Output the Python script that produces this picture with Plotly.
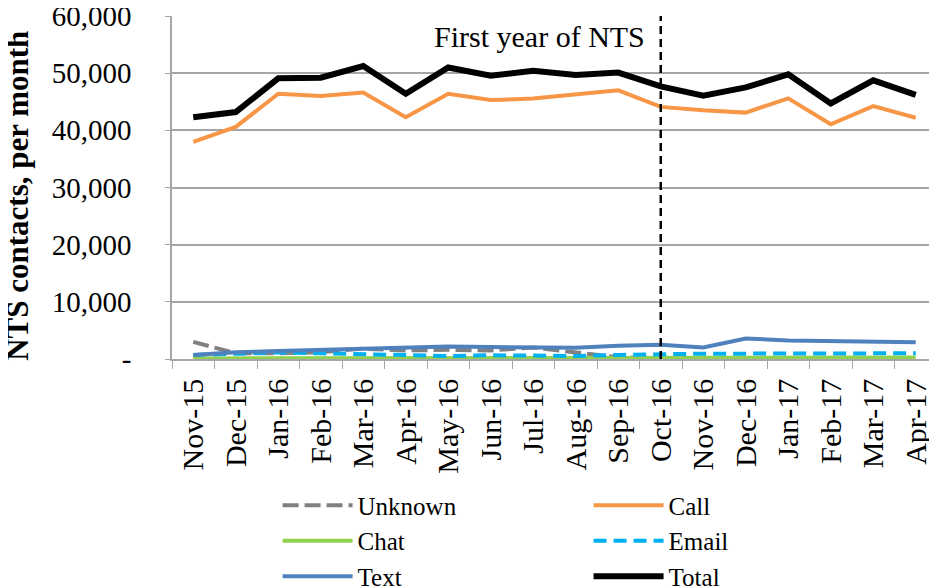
import plotly.graph_objects as go

# Monatskategorien und Werte
months = ["Nov-15", "Dec-15", "Jan-16", "Feb-16", "Mar-16", "Apr-16", "May-16", "Jun-16", "Jul-16",
          "Aug-16", "Sep-16", "Oct-16", "Nov-16", "Dec-16", "Jan-17", "Feb-17", "Mar-17", "Apr-17"]

unknown = [3000, 1000, 1000, 1200, 1800, 1500, 1600, 1500, 2000, 1200, 300, 200, 100, 100, 100, 100, 100, 100]
call = [38000, 40600, 46400, 46000, 46600, 42300, 46400, 45300, 45550, 46300, 47000, 44100,
        43500, 43100, 45600, 41050, 44250, 42200]
chat = [100, 100, 100, 100, 100, 100, 100, 100, 100, 100, 100, 150, 150, 150, 150, 200, 250, 250]
email = [700, 1000, 1150, 1000, 880, 700, 530, 650, 530, 530, 700, 880, 940, 940, 940, 880, 1000, 1000]
text = [700, 1180, 1400, 1600, 1900, 2000, 2180, 2100, 2100, 1950, 2300, 2500, 2000, 3600, 3240,
        3100, 3100, 2950]
total = [42300, 43200, 49100, 49200, 51250, 46400, 51000, 49550, 50400, 49700, 50100, 47700,
         46050, 47500, 49800, 44700, 48750, 46200]

y_ticks = [0, 10000, 20000, 30000, 40000, 50000, 60000]
y_ticktext = ["-", "10,000", "20,000", "30,000", "40,000", "50,000", "60,000"]

FONT = "Liberation Serif"

fig = go.Figure()

series = [
    ("Unknown", unknown, "#808080", 4, "16px,6px"),
    ("Call", call, "#F79646", 4, "solid"),
    ("Chat", chat, "#92D050", 4, "solid"),
    ("Email", email, "#00B0F0", 4, "13px,7px"),
    ("Text", text, "#4F81BD", 4, "solid"),
    ("Total", total, "#000000", 6, "solid"),
]
for name, vals, color, width, dash in series:
    fig.add_trace(go.Scatter(x=months, y=vals, name=name, mode="lines",
                             line=dict(color=color, width=width, dash=dash)))

# Linie fuer das erste Jahr
fig.add_shape(type="line", xref="x", yref="paper", x0="Oct-16", x1="Oct-16", y0=0, y1=1,
              line=dict(color="black", width=2.5, dash="8px,5px"))
fig.add_annotation(x="Oct-16", y=0.94, xref="x", yref="paper", text="First year of NTS",
                   showarrow=False, xanchor="right", yanchor="middle", xshift=-14,
                   font=dict(family=FONT, size=30, color="black"))

# y-Achsentitel als Annotation, damit die Position fest bleibt
fig.add_annotation(x=-0.203, y=0.475, xref="paper", yref="paper", text="<b>NTS contacts, per month</b>",
                   showarrow=False, textangle=-90, xanchor="center", yanchor="middle",
                   font=dict(family=FONT, size=31, color="black"))

# Seite hat 8px Rand oben, daher etwas kleiner
fig.update_layout(
    width=929, height=580,
    margin=dict(l=164, r=0, t=8, b=229, autoexpand=False),
    plot_bgcolor="white", paper_bgcolor="white",
    font=dict(family=FONT, size=27, color="black"),
    showlegend=True,
    legend=dict(orientation="h", x=0.138, xanchor="left", y=-0.36, yanchor="top",
                entrywidth=226, entrywidthmode="pixels", itemwidth=70,
                font=dict(family=FONT, size=25), tracegroupgap=0, itemclick=False),
)
fig.update_xaxes(type="category", range=[-0.5, len(months) - 0.5],
                 showline=True, linecolor="#a6a6a6", linewidth=1.5,
                 ticks="outside", tickson="boundaries", ticklen=8, tickcolor="#a6a6a6",
                 tickangle=-90, tickfont=dict(family=FONT, size=30), showgrid=False,
                 ticklabelstandoff=6, automargin=False)
fig.update_yaxes(range=[0, 60000], tickvals=y_ticks, ticktext=y_ticktext,
                 showline=True, linecolor="#a6a6a6", linewidth=1.5,
                 ticks="outside", ticklen=5, tickcolor="#a6a6a6",
                 showgrid=True, gridcolor="#a6a6a6", gridwidth=1.5, zeroline=False,
                 tickfont=dict(family=FONT, size=29), ticklabelstandoff=28,
                 ticklabeloverflow="allow", automargin=False)

fig.write_html("out.html")
